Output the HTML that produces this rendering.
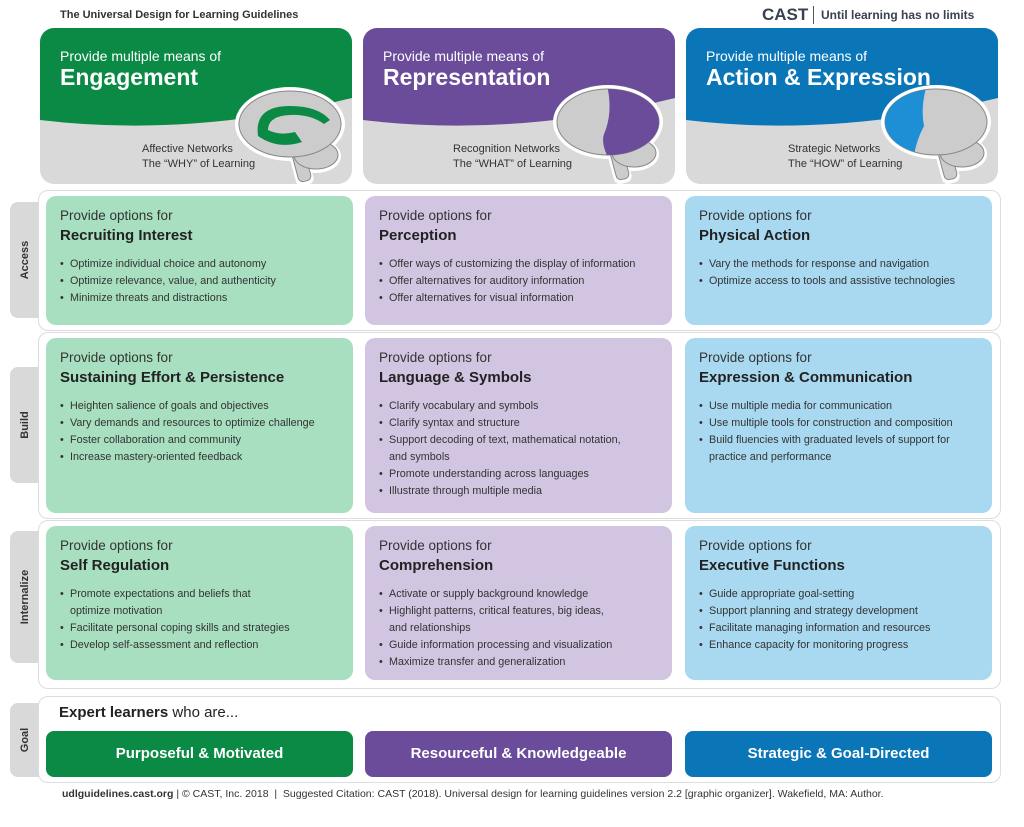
<!DOCTYPE html>
<html><head><meta charset="utf-8"><style>
*{margin:0;padding:0;box-sizing:border-box}
body{width:1024px;height:827px;background:#fff;font-family:"Liberation Sans",sans-serif;color:#2b2b2b;position:relative;overflow:hidden}
.a{position:absolute}
.hdr{position:absolute;top:28px;width:312px;height:156px;border-radius:14px;overflow:hidden;background:#d9d9d9}
.hdr svg{position:absolute;left:0;top:0}
.hdr .p{position:absolute;left:20px;top:20px;color:#fff;font-size:14px}
.hdr .t{position:absolute;left:20px;top:36px;color:#fff;font-size:23px;font-weight:bold;white-space:nowrap}
.hdr .n{position:absolute;top:114px;font-size:11px;line-height:15px;color:#333}
.band{position:absolute;left:38px;width:963px;border:1px solid #ddd;border-radius:10px;background:#fff}
.tab{position:absolute;left:10px;width:30px;background:#d9d9d9;border-radius:8px 0 0 8px}
.tab span{position:absolute;left:50%;top:50%;transform:translate(-50%,-50%) rotate(-90deg);font-size:11px;font-weight:bold;color:#333;white-space:nowrap}
.card{position:absolute;border-radius:10px;padding:12px 14px}
.g{background:#a8dfc0}.pu{background:#d2c5e1}.b{background:#a9d9f0}
.card .p{font-size:13.5px;color:#333}
.card .t{font-size:15px;font-weight:bold;color:#222;margin-top:4px}
.card ul{list-style:none;margin-top:12px}
.card li{font-size:10.8px;line-height:17px;padding-left:10px;position:relative;color:#333}
.card li:before{content:"•";position:absolute;left:0}
.btn{position:absolute;top:731px;height:46px;border-radius:8px;color:#fff;font-weight:bold;font-size:15px;text-align:center;line-height:46px}
</style></head><body>
<div class="a" style="left:60px;top:9px;font-size:11px;font-weight:bold;color:#333">The Universal Design for Learning Guidelines</div>
<div class="a" style="left:762px;top:5px;font-size:17px;font-weight:bold;color:#3a4050">CAST</div>
<div class="a" style="left:813px;top:6px;width:1px;height:18px;background:#555"></div>
<div class="a" style="left:821px;top:8px;font-size:12px;font-weight:bold;color:#3a4050">Until learning has no limits</div>

<svg width="0" height="0" style="position:absolute"><defs>
<g id="brw" fill="#fff"><ellipse cx="0" cy="-4" rx="55" ry="37"/><ellipse cx="26" cy="28" rx="25" ry="17"/><rect x="0" y="20" width="18" height="38" rx="6" transform="rotate(-15 9 30)"/></g>
<g id="brg" fill="#ccc" stroke="#888" stroke-width="1"><rect x="3" y="20" width="13" height="34" rx="5" transform="rotate(-15 9 30)"/><ellipse cx="26" cy="27" rx="22" ry="14"/><ellipse cx="0" cy="-4" rx="51" ry="33"/></g>
<clipPath id="cb"><ellipse cx="0" cy="-4" rx="51" ry="33"/></clipPath>
</defs></svg>

<div class="hdr" style="left:40px">
<svg width="312" height="156"><path d="M0 0H312V70Q150 110 0 92Z" fill="#0b8a45"/>
<g transform="translate(250,100)"><use href="#brw"/><use href="#brg"/>
<path d="M-32 8Q-36 -22 0 -22Q28 -22 40 -8L34 -4Q20 -14 0 -13Q-22 -12 -22 2Q-10 8 5 4L12 14Q-12 22 -32 8Z" fill="#0b8a45"/></g></svg>
<div class="p">Provide multiple means of</div><div class="t">Engagement</div>
<div class="n" style="left:102px">Affective Networks<br>The “WHY” of Learning</div></div>

<div class="hdr" style="left:363px">
<svg width="312" height="156"><path d="M0 0H312V70Q150 110 0 92Z" fill="#6b4c9a"/>
<g transform="translate(245,98)"><use href="#brw"/><use href="#brg"/>
<path d="M-2 -45L60 -45L60 40L5 40Q-8 20 -4 8Q6 -15 -2 -45Z" fill="#6b4c9a" clip-path="url(#cb)"/></g></svg>
<div class="p">Provide multiple means of</div><div class="t">Representation</div>
<div class="n" style="left:90px">Recognition Networks<br>The “WHAT” of Learning</div></div>

<div class="hdr" style="left:686px">
<svg width="312" height="156"><path d="M0 0H312V70Q150 110 0 92Z" fill="#0a76b8"/>
<g transform="translate(250,98)"><use href="#brw"/><use href="#brg"/>
<path d="M-60 -45L-8 -45Q-16 -20 -12 0Q-20 15 -22 30L-60 30Z" fill="#1e8fd5" clip-path="url(#cb)"/></g></svg>
<div class="p">Provide multiple means of</div><div class="t">Action &amp; Expression</div>
<div class="n" style="left:102px">Strategic Networks<br>The “HOW” of Learning</div></div>

<div class="tab" style="top:202px;height:116px"><span>Access</span></div>
<div class="tab" style="top:367px;height:116px"><span>Build</span></div>
<div class="tab" style="top:531px;height:132px"><span>Internalize</span></div>
<div class="tab" style="top:703px;height:74px"><span>Goal</span></div>

<div class="band" style="top:190px;height:141px"></div>
<div class="band" style="top:332px;height:187px"></div>
<div class="band" style="top:520px;height:169px"></div>
<div class="band" style="top:696px;height:87px"></div>

<div class="card g" style="left:46px;top:196px;width:307px;height:129px"><div class="p">Provide options for</div><div class="t">Recruiting Interest</div><ul><li>Optimize individual choice and autonomy</li><li>Optimize relevance, value, and authenticity</li><li>Minimize threats and distractions</li></ul></div>
<div class="card pu" style="left:365px;top:196px;width:307px;height:129px"><div class="p">Provide options for</div><div class="t">Perception</div><ul><li>Offer ways of customizing the display of information</li><li>Offer alternatives for auditory information</li><li>Offer alternatives for visual information</li></ul></div>
<div class="card b" style="left:685px;top:196px;width:307px;height:129px"><div class="p">Provide options for</div><div class="t">Physical Action</div><ul><li>Vary the methods for response and navigation</li><li>Optimize access to tools and assistive technologies</li></ul></div>

<div class="card g" style="left:46px;top:338px;width:307px;height:175px"><div class="p">Provide options for</div><div class="t">Sustaining Effort &amp; Persistence</div><ul><li>Heighten salience of goals and objectives</li><li>Vary demands and resources to optimize challenge</li><li>Foster collaboration and community</li><li>Increase mastery-oriented feedback</li></ul></div>
<div class="card pu" style="left:365px;top:338px;width:307px;height:175px"><div class="p">Provide options for</div><div class="t">Language &amp; Symbols</div><ul><li>Clarify vocabulary and symbols</li><li>Clarify syntax and structure</li><li>Support decoding of text, mathematical notation,<br>and symbols</li><li>Promote understanding across languages</li><li>Illustrate through multiple media</li></ul></div>
<div class="card b" style="left:685px;top:338px;width:307px;height:175px"><div class="p">Provide options for</div><div class="t">Expression &amp; Communication</div><ul><li>Use multiple media for communication</li><li>Use multiple tools for construction and composition</li><li>Build fluencies with graduated levels of support for<br>practice and performance</li></ul></div>

<div class="card g" style="left:46px;top:526px;width:307px;height:154px"><div class="p">Provide options for</div><div class="t">Self Regulation</div><ul><li>Promote expectations and beliefs that<br>optimize motivation</li><li>Facilitate personal coping skills and strategies</li><li>Develop self-assessment and reflection</li></ul></div>
<div class="card pu" style="left:365px;top:526px;width:307px;height:154px"><div class="p">Provide options for</div><div class="t">Comprehension</div><ul><li>Activate or supply background knowledge</li><li>Highlight patterns, critical features, big ideas,<br>and relationships</li><li>Guide information processing and visualization</li><li>Maximize transfer and generalization</li></ul></div>
<div class="card b" style="left:685px;top:526px;width:307px;height:154px"><div class="p">Provide options for</div><div class="t">Executive Functions</div><ul><li>Guide appropriate goal-setting</li><li>Support planning and strategy development</li><li>Facilitate managing information and resources</li><li>Enhance capacity for monitoring progress</li></ul></div>

<div class="a" style="left:59px;top:704px;font-size:15px;color:#222"><b>Expert learners</b> who are...</div>
<div class="btn" style="left:46px;width:307px;background:#0b8a45">Purposeful &amp; Motivated</div>
<div class="btn" style="left:365px;width:307px;background:#6b4c9a">Resourceful &amp; Knowledgeable</div>
<div class="btn" style="left:685px;width:307px;background:#0a76b8">Strategic &amp; Goal-Directed</div>

<div class="a" style="left:62px;top:788px;font-size:10.5px;color:#333;white-space:nowrap"><b>udlguidelines.cast.org</b> | © CAST, Inc. 2018 &nbsp;| &nbsp;Suggested Citation: CAST (2018). Universal design for learning guidelines version 2.2 [graphic organizer]. Wakefield, MA: Author.</div>
</body></html>
